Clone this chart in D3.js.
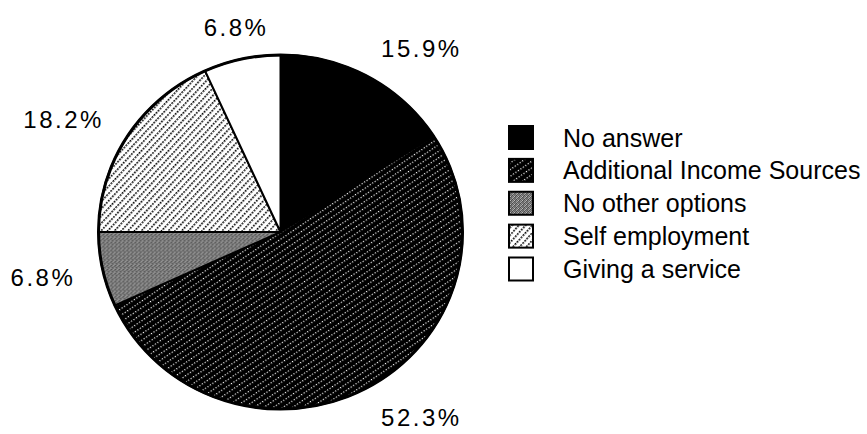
<!DOCTYPE html>
<html><head><meta charset="utf-8">
<script src="https://cdn.jsdelivr.net/npm/d3@7"></script>
<style>body{margin:0;background:#fff}svg{display:block}</style>
</head><body>
<svg id="c" width="867" height="434"></svg>
<script>
const categories = ["No answer","Additional Income Sources","No other options","Self employment","Giving a service"];
const values = [15.9, 52.3, 6.8, 18.2, 6.8];
const labels = ["15.9%","52.3%","6.8%","18.2%","6.8%"];
const fills = ["#000","url(#pAdd)","url(#pGray)","url(#pSelf)","#fff"];

const W = 867, H = 434;
const cx = 280.5, cy = 232, R = 182, ry = 177;
const svg = d3.select("#c");
const defs = svg.append("defs");

// Additional income: black with white dotted diagonals
const pA = defs.append("pattern").attr("id","pAdd").attr("patternUnits","userSpaceOnUse")
  .attr("width",5.5).attr("height",3).attr("patternTransform","rotate(55)");
pA.append("rect").attr("width",5.5).attr("height",3).attr("fill","#000");
pA.append("rect").attr("x",0).attr("y",0).attr("width",1.2).attr("height",1.2).attr("fill","#fff");

// Self employment: white with black dotted diagonals
const pS = defs.append("pattern").attr("id","pSelf").attr("patternUnits","userSpaceOnUse")
  .attr("width",5).attr("height",3).attr("patternTransform","rotate(42)");
pS.append("rect").attr("width",5).attr("height",3).attr("fill","#fff");
pS.append("rect").attr("x",0).attr("y",0).attr("width",1.6).attr("height",1.8).attr("fill","#000");

// No other options: grey stipple
const grid = ["#222","#bbb","#555","#999","#aaa","#444","#ddd","#333","#666","#ccc","#222","#888","#bbb","#333","#999","#555"];
const pG = defs.append("pattern").attr("id","pGray").attr("patternUnits","userSpaceOnUse")
  .attr("width",4).attr("height",4);
grid.forEach((c,i)=>pG.append("rect").attr("x",i%4).attr("y",Math.floor(i/4)).attr("width",1).attr("height",1).attr("fill",c));

const pie = d3.pie().sort(null).value(d=>d)(values);
const arc = d3.arc().innerRadius(0).outerRadius(R);

const g = svg.append("g").attr("transform",`translate(${cx},${cy}) scale(1,${ry/R})`);
g.selectAll("path").data(pie).join("path")
  .attr("d",arc)
  .attr("fill",(d,i)=>fills[i])
  .attr("stroke","#000").attr("stroke-width",2)
  .attr("stroke-linejoin","round")
  .attr("vector-effect","non-scaling-stroke");
g.append("ellipse").attr("rx",R).attr("ry",R).attr("fill","none")
  .attr("stroke","#000").attr("stroke-width",3).attr("vector-effect","non-scaling-stroke");

// percentage labels
const LR = 210;
svg.append("g").selectAll("text").data(pie).join("text")
  .each(function(d,i){
    const a = (d.startAngle+d.endAngle)/2;
    const s = Math.sin(a);
    const x = cx + LR*s, y = cy - LR*Math.cos(a);
    d3.select(this).attr("x",x).attr("y",y).attr("dy","0.4em")
      .attr("text-anchor", Math.abs(s)<0.3 ? "middle" : (s>0 ? "start" : "end"));
  })
  .attr("font-family","'Liberation Sans', Arial, Helvetica, sans-serif")
  .attr("font-size",24).attr("letter-spacing","2.5px").attr("fill","#000")
  .text((d,i)=>labels[i]);

// legend
const ly = d3.scalePoint().domain(categories).range([137.5, 269]);
const lg = svg.append("g");
const rows = lg.selectAll("g").data(categories).join("g")
  .attr("transform",d=>`translate(508,${ly(d)})`);
rows.append("rect").attr("x",1).attr("y",-11.5).attr("width",24).attr("height",23)
  .attr("fill",(d,i)=>fills[i]).attr("stroke","#000").attr("stroke-width",2);
rows.append("text").attr("x",55).attr("y",0).attr("dy","0.36em")
  .attr("font-family","'Liberation Sans', Arial, Helvetica, sans-serif")
  .attr("font-size",25).attr("fill","#000").text(d=>d);
</script>
</body></html>
